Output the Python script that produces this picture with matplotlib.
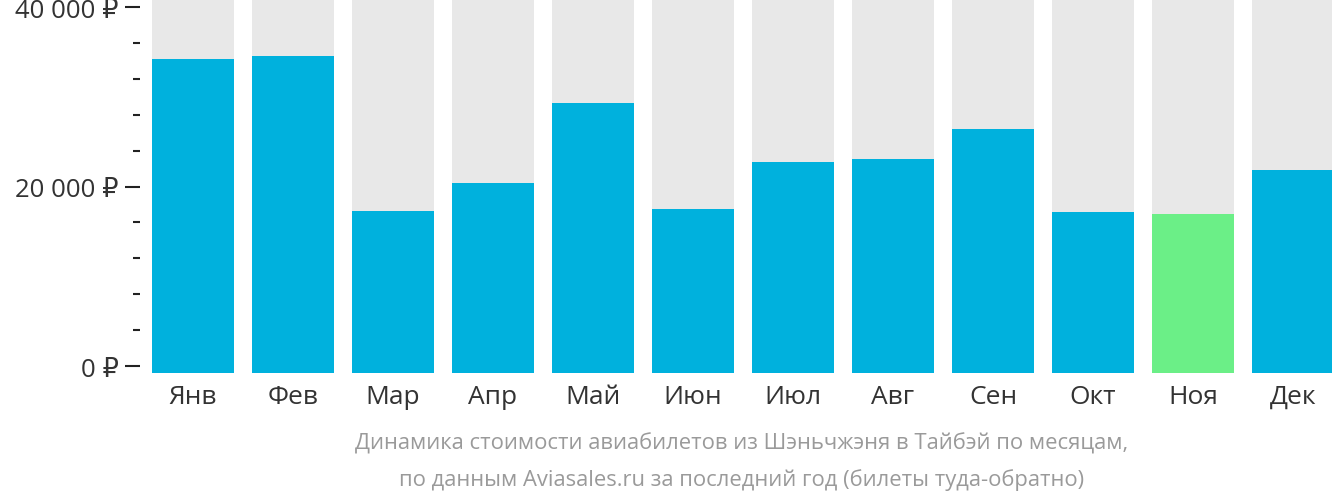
import matplotlib
matplotlib.use("Agg")
import matplotlib.pyplot as plt
from matplotlib.ticker import MultipleLocator

plt.rcParams['font.family'] = ['Open Sans', 'DejaVu Sans']

months = ["Янв", "Фев", "Мар", "Апр", "Май", "Июн", "Июл", "Авг", "Сен", "Окт", "Ноя", "Дек"]
prices = [34190, 34530, 17320, 20450, 29270, 17540, 22790, 23020, 26370, 17210, 16980, 21790]
cheapest_month = "Ноя"
tick_values = [0, 20000, 40000]
tick_labels = ["0 ₽", "20 000 ₽", "40 000 ₽"]
title_lines = ["Динамика стоимости авиабилетов из Шэньчжэня в Тайбэй по месяцам,",
               "по данным Aviasales.ru за последний год (билеты туда-обратно)"]

BLUE = "#00B1DD"
GREEN = "#6BEF87"
GREY = "#E8E8E8"
Y_MIN, Y_MAX = -780, 40900

W, H = 1332, 502
fig = plt.figure(figsize=(W / 100, H / 100), dpi=100)
ax = fig.add_axes([152 / W, (H - 374) / H, (W - 152) / W, 374 / H])

x = list(range(len(months)))
colors = [GREEN if m == cheapest_month else BLUE for m in months]
ax.bar(x, [Y_MAX - Y_MIN] * len(x), bottom=Y_MIN, width=0.82, color=GREY, zorder=1)
ax.bar(x, [p - Y_MIN for p in prices], bottom=Y_MIN, width=0.82, color=colors, zorder=2)

ax.set_xlim(-0.41, 11.39)
ax.set_ylim(Y_MIN, Y_MAX)

for s in ax.spines.values():
    s.set_visible(False)
ax.spines['left'].set_position(('outward', 9))

ax.set_yticks(tick_values)
ax.set_yticklabels(tick_labels)
ax.yaxis.set_minor_locator(MultipleLocator(4000))
ax.tick_params(axis='y', which='major', length=11, width=1.5, color='#222222',
               labelsize=18.5, labelcolor='#333333', pad=4)
ax.tick_params(axis='y', which='minor', length=5, width=1.5, color='#222222')

ax.set_xticks(x)
ax.set_xticklabels(months)
ax.tick_params(axis='x', length=0, labelsize=19, labelcolor='#333333', pad=8)

fig.text(742 / W, 1 - 444 / H, title_lines[0], ha='center', va='center',
         fontsize=15.8, color='#9a9a9a')
fig.text(742 / W, 1 - 480 / H, title_lines[1], ha='center', va='center',
         fontsize=15.8, color='#9a9a9a')

fig.savefig("out.png", dpi=100)
